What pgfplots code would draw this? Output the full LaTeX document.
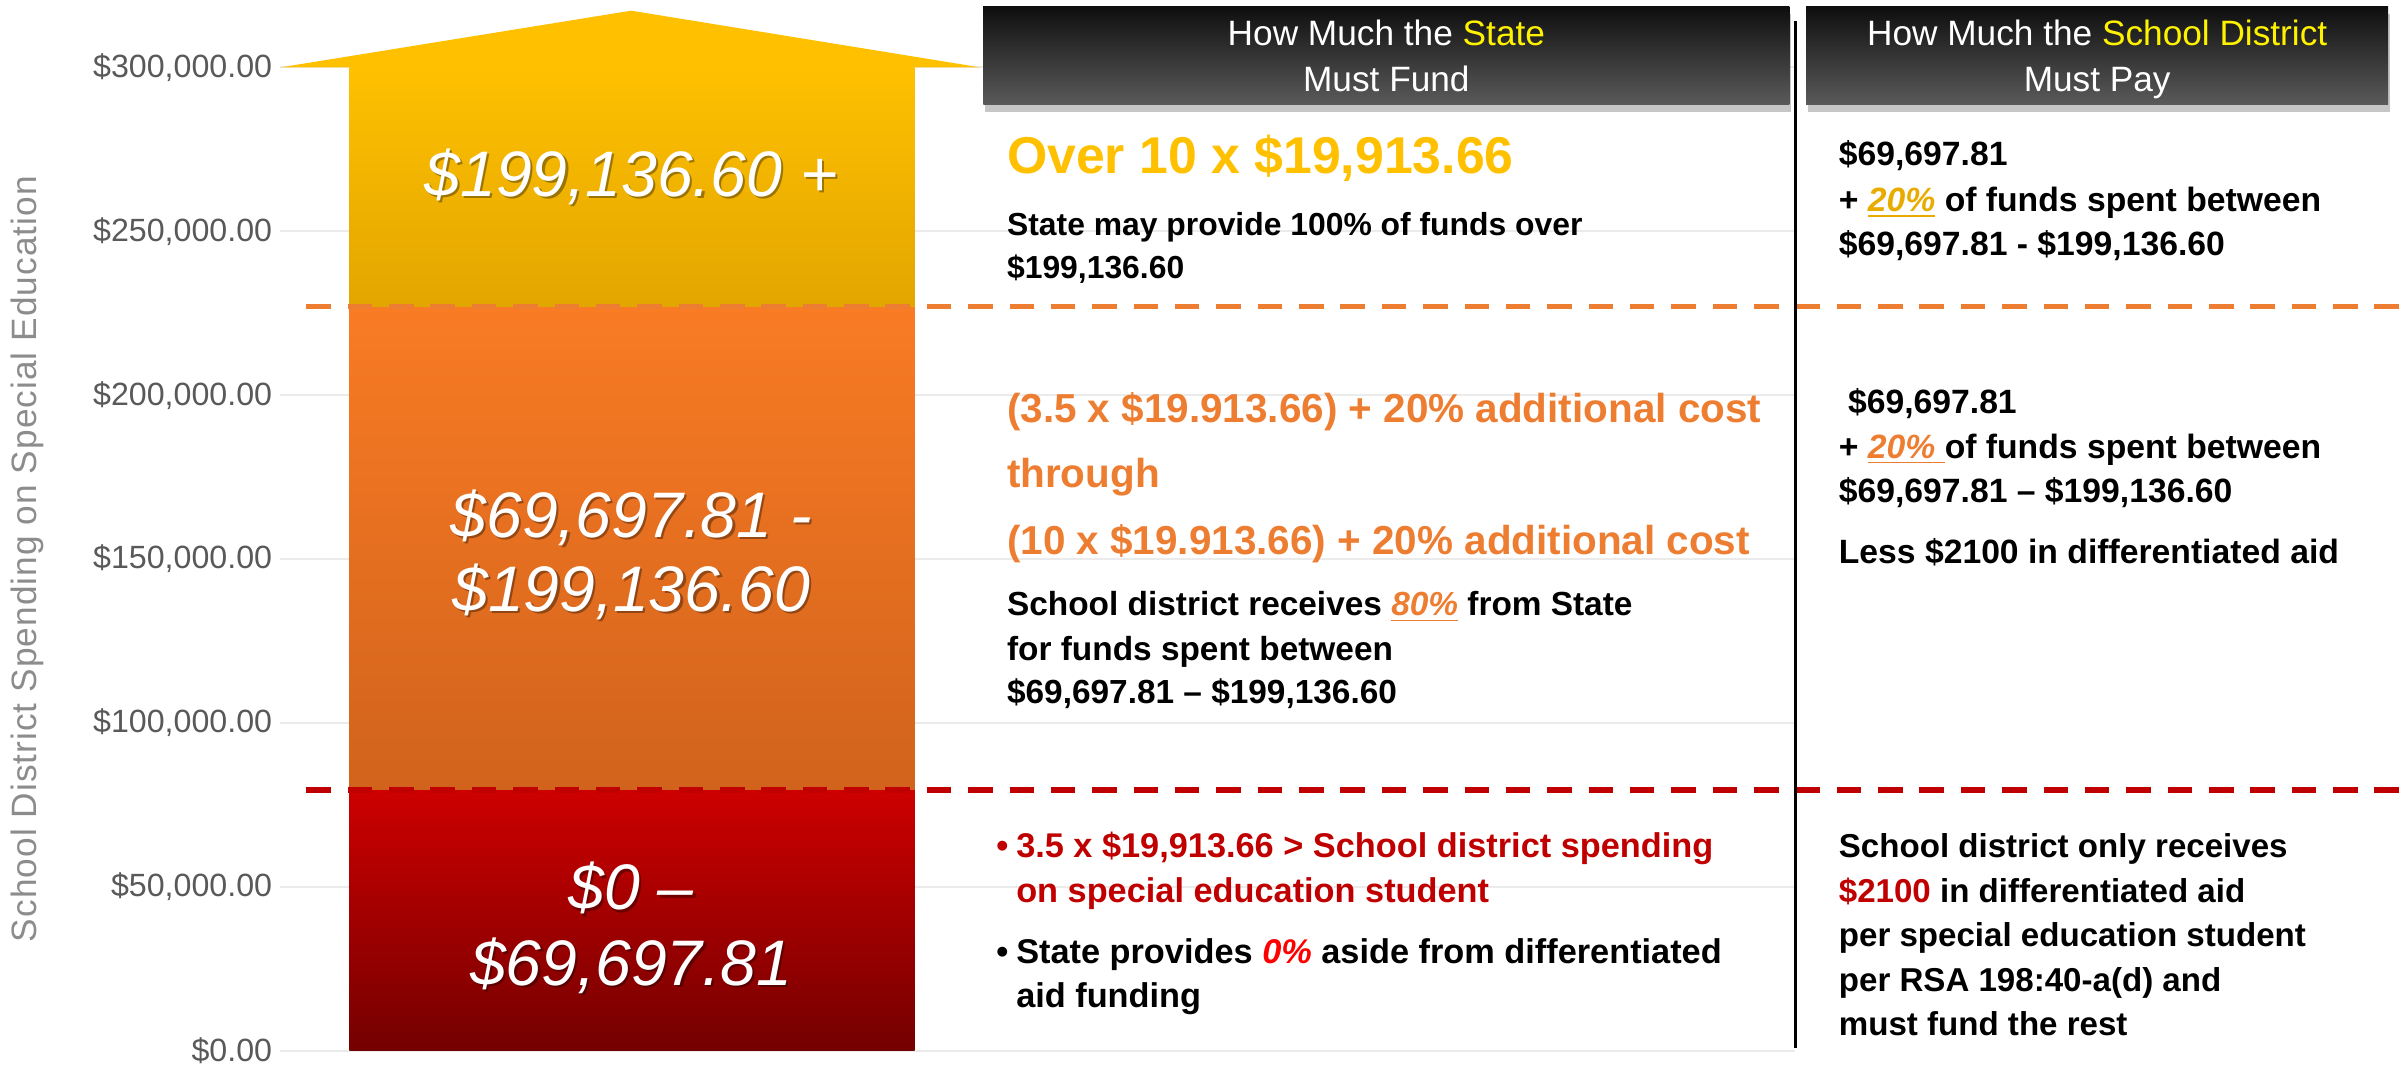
\documentclass[border=0pt]{standalone}
\usepackage{pgfplots}
\pgfplotsset{compat=1.18}
\usepackage{fontspec}
\setmainfont{Liberation Sans}
\usetikzlibrary{shadows}

\definecolor{tickgray}{HTML}{595959}
\definecolor{titlegray}{HTML}{8C8C8C}
\definecolor{gridgray}{HTML}{EBEBEB}
\definecolor{goldtop}{HTML}{FFC000}
\definecolor{goldbot}{HTML}{E2A600}
\definecolor{orgtop}{HTML}{F97B24}
\definecolor{orgbot}{HTML}{D1631C}
\definecolor{redtop}{HTML}{CD0000}
\definecolor{redbot}{HTML}{740000}
\definecolor{gold}{HTML}{FFC000}
\definecolor{gold2}{HTML}{E8AC00}
\definecolor{orangetxt}{HTML}{ED7D31}
\definecolor{darkred}{HTML}{C00000}
\definecolor{hdtop}{HTML}{0E0E0E}
\definecolor{hdbot}{HTML}{5A5A5A}

\newcommand{\fs}[1]{\fontsize{#1}{#1}\selectfont}
% white italic label on the bar, with a soft shadow
\newcommand{\barlabel}[3]{%
  \node[anchor=base, text=black, opacity=0.35, font=\fs{21}\itshape] at (#1+1.5,#2+1.5) {#3};
  \node[anchor=base, text=white, font=\fs{21}\itshape] at (#1,#2) {#3};}

\begin{document}
\begin{tikzpicture}
\begin{axis}[
  scale only axis, width=494.5pt, height=321pt,
  xmin=183, xmax=1172, ymin=0, ymax=300000,
  clip=false,
  axis line style={draw=none},
  xtick=\empty,
  ytick={0,50000,100000,150000,200000,250000,300000},
  yticklabels={{\$0.00},{\$50,000.00},{\$100,000.00},{\$150,000.00},{\$200,000.00},{\$250,000.00},{\$300,000.00}},
  yticklabel style={font=\fs{10.5}, text=tickgray, inner sep=0pt, xshift=-2.5pt},
  scaled y ticks=false,
  major tick length=0pt,
  ymajorgrids, grid style={gridgray, line width=0.6pt},
]
% spending bands
\addplot[draw=none, top color=redtop, bottom color=redbot]
  coordinates {(228,0) (597,0) (597,79600) (228,79600)} -- cycle;
\addplot[draw=none, top color=orgtop, bottom color=orgbot]
  coordinates {(228,79600) (597,79600) (597,227100) (228,227100)} -- cycle;
\addplot[draw=none, top color=goldtop, bottom color=goldbot]
  coordinates {(228,227100) (597,227100) (597,300000) (228,300000)} -- cycle;
\addplot[draw=none, fill=gold]
  coordinates {(183,300000) (412,317300) (640,300000)} -- cycle;
% thresholds
\addplot[orangetxt, line width=1.7pt, dash pattern=on 8pt off 5.5pt]
  coordinates {(200,227100) (1568,227100)};
\addplot[darkred, line width=1.7pt, dash pattern=on 8pt off 5.5pt]
  coordinates {(200,79600) (1568,79600)};
\end{axis}

\begin{scope}[x=0.5pt, y=-0.5pt, xshift=-91.5pt, yshift=343pt]
\tikzset{T/.style={anchor=base west, inner sep=0pt}}
% axis title
\node[rotate=90, text=titlegray, font={\fs{11.5}\addfontfeature{LetterSpace=3}}] at (18,365)
  {School District Spending on Special Education};

% bar labels
\barlabel{412}{128}{\$199,136.60 +}
\barlabel{412}{351}{\$69,697.81 -}
\barlabel{412}{399}{\$199,136.60}
\barlabel{412}{594}{\$0 –}
\barlabel{412}{643}{\$69,697.81}

% headers
\fill[drop shadow={opacity=0.45, shadow xshift=0.5pt, shadow yshift=-2.5pt},
  top color=hdtop, bottom color=hdbot] (642,4) rectangle (1168,68);
\fill[drop shadow={opacity=0.45, shadow xshift=0.5pt, shadow yshift=-2.5pt},
  top color=hdtop, bottom color=hdbot] (1179,4) rectangle (1559,68);
\node[anchor=base, text=white, font=\fs{11.5}] at (905,30) {How Much the \textcolor{yellow}{State}};
\node[anchor=base, text=white, font=\fs{11.5}] at (905,60) {Must Fund};
\node[anchor=base, text=white, font=\fs{11.5}] at (1369,30) {How Much the \textcolor{yellow}{School District}};
\node[anchor=base, text=white, font=\fs{11.5}] at (1369,60) {Must Pay};

\draw[black, line width=1pt] (1172,14) -- (1172,684);

% state column
\node[T, text=gold, font=\fs{16.9}\bfseries] at (657,113) {Over 10 x \$19,913.66};
\node[T, font=\fs{10.4}\bfseries] at (657,154) {State may provide 100\% of funds over};
\node[T, font=\fs{10.4}\bfseries] at (657,182) {\$199,136.60};
\node[T, text=orangetxt, font=\fs{13.2}\bfseries] at (657,276) {(3.5 x \$19.913.66) + 20\% additional cost};
\node[T, text=orangetxt, font=\fs{13.2}\bfseries] at (657,318) {through};
\node[T, text=orangetxt, font=\fs{13.2}\bfseries] at (657,362) {(10 x \$19.913.66) + 20\% additional cost};
\node[T, font=\fs{10.9}\bfseries] at (657,402) {School district receives \textcolor{orangetxt}{\underline{\itshape 80\%}} from State};
\node[T, font=\fs{10.9}\bfseries] at (657,431) {for funds spent between};
\node[T, font=\fs{10.9}\bfseries] at (657,459) {\$69,697.81 – \$199,136.60};
\node[T, text=darkred, font=\fs{11.2}\bfseries] at (650,560) {\textbullet};
\node[T, text=darkred, font=\fs{11.2}\bfseries] at (663,560) {3.5 x \$19,913.66 > School district spending};
\node[T, text=darkred, font=\fs{11.2}\bfseries] at (663,589) {on special education student};
\node[T, font=\fs{11.2}\bfseries] at (650,629) {\textbullet};
\node[T, font=\fs{11.2}\bfseries] at (663,629) {State provides \textcolor{red}{\itshape 0\%} aside from differentiated};
\node[T, font=\fs{11.2}\bfseries] at (663,658) {aid funding};

% district column
\node[T, font=\fs{11}\bfseries] at (1200,108) {\$69,697.81};
\node[T, font=\fs{11}\bfseries] at (1200,138) {+ \textcolor{gold2}{\underline{\itshape 20\%}} of funds spent between};
\node[T, font=\fs{11}\bfseries] at (1200,167) {\$69,697.81 - \$199,136.60};
\node[T, font=\fs{11}\bfseries] at (1206,270) {\$69,697.81};
\node[T, font=\fs{11}\bfseries] at (1200,299) {+ \textcolor{orangetxt}{\underline{\itshape 20\% }}of funds spent between};
\node[T, font=\fs{11}\bfseries] at (1200,328) {\$69,697.81 – \$199,136.60};
\node[T, font=\fs{11}\bfseries] at (1200,368) {Less \$2100 in differentiated aid};
\node[T, font=\fs{10.8}\bfseries] at (1200,560) {School district only receives};
\node[T, font=\fs{10.8}\bfseries] at (1200,589) {\textcolor{darkred}{\$2100} in differentiated aid};
\node[T, font=\fs{10.8}\bfseries] at (1200,618) {per special education student};
\node[T, font=\fs{10.8}\bfseries] at (1200,647) {per RSA 198:40-a(d) and};
\node[T, font=\fs{10.8}\bfseries] at (1200,676) {must fund the rest};

\pgfresetboundingbox
\path (0,0) rectangle (1568,696);
\end{scope}
\end{tikzpicture}
\end{document}
